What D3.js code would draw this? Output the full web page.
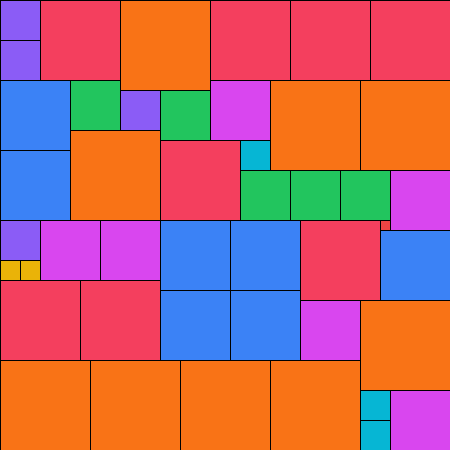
<!DOCTYPE html>
<html>
<head>
<meta charset="utf-8">
<script src="https://cdn.jsdelivr.net/npm/d3@7"></script>
<style>
  html, body { margin: 0; padding: 0; background: #fff; }
  svg { display: block; }
</style>
</head>
<body>
<div id="d3-container"></div>
<script>
/* CONSTANTS AND GLOBALS */
const width = 450,
  height = 450;

// side of the big square, in units
const boardSize = 45;

// square sides (units) in the order they get packed
const sides = [
  4, 8, 9, 8, 8, 8,
  4,
  7, 5, 6, 9, 9,
  4, 5,
  9,
  8, 3,
  7,
  5, 5, 5, 6,
  4, 6, 6, 7, 7, 8, 1,
  7,
  2, 2,
  8, 8,
  7, 7,
  6, 9,
  9, 9, 9, 9,
  3, 6,
  3
];

// one colour per side length
const sideValues = [1, 2, 3, 4, 5, 6, 7, 8, 9];
const sideColors = ["#ef4444", "#eab308", "#06b6d4", "#8b5cf6", "#22c55e",
  "#d946ef", "#3b82f6", "#f43f5e", "#f97316"];

/* LAYOUT */
// simple skyline packing: each square goes to the lowest, then leftmost, free spot
function pack(list, size) {
  const sky = new Array(size).fill(0);
  return list.map((s, i) => {
    const low = d3.min(sky);
    const x = sky.indexOf(low);
    for (let k = x; k < x + s; k++) sky[k] = low + s;
    return { id: i, side: s, x: x, y: low };
  });
}

const squares = pack(sides, boardSize);

/* SCALES */
const xScale = d3.scaleLinear().domain([0, boardSize]).range([0, width]);
const yScale = d3.scaleLinear().domain([0, boardSize]).range([0, height]);
const color = d3.scaleOrdinal().domain(sideValues).range(sideColors);

/* DRAW */
const svg = d3.select("#d3-container")
  .append("svg")
  .attr("width", width)
  .attr("height", height);

svg.selectAll("rect")
  .data(squares, d => d.id)
  .join("rect")
  .attr("x", d => xScale(d.x))
  .attr("y", d => yScale(d.y))
  .attr("width", d => xScale(d.side) - xScale(0))
  .attr("height", d => yScale(d.side) - yScale(0))
  .attr("fill", d => color(d.side))
  .attr("stroke", "#000")
  .attr("stroke-width", 1)
  .attr("shape-rendering", "crispEdges");
</script>
</body>
</html>
